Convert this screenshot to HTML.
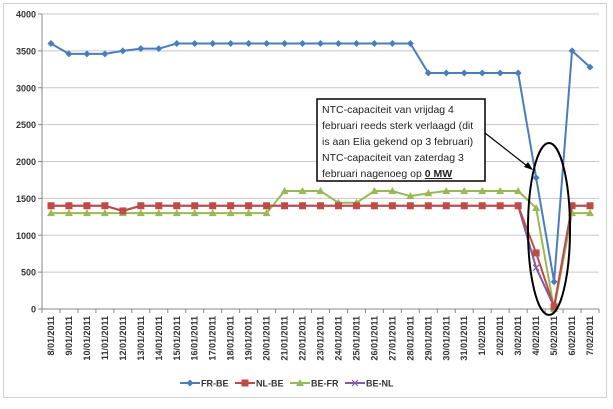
<!DOCTYPE html>
<html><head><meta charset="utf-8"><style>
body{margin:0;background:#fff;font-family:"Liberation Sans",sans-serif;}
svg text{font-family:"Liberation Sans",sans-serif;}
</style></head><body>
<svg id="chart" width="613" height="404" xmlns="http://www.w3.org/2000/svg">
<rect x="3.5" y="3.5" width="603" height="394" fill="#fff" stroke="#d0d0d0"/>
<g id="grid"></g><g id="axes"></g><g id="series"></g>
<g>
<rect x="317" y="99" width="168" height="82" fill="#fff" stroke="#000" stroke-width="1.5"/>
<text font-size="10.5" fill="#222">
<tspan x="322" y="113">NTC-capaciteit van vrijdag 4</tspan>
<tspan x="322" y="129">februari reeds sterk verlaagd (dit</tspan>
<tspan x="322" y="145">is aan Elia gekend op 3 februari)</tspan>
<tspan x="322" y="161">NTC-capaciteit van zaterdag 3</tspan>
<tspan x="322" y="177">februari nagenoeg op <tspan font-weight="bold" text-decoration="underline">0 MW</tspan></tspan>
</text>
<line x1="485" y1="133" x2="531" y2="169" stroke="#000" stroke-width="1.2"/>
<polygon points="533,170 524,167 528,162" fill="#000"/>
<ellipse cx="549" cy="229" rx="21" ry="86" fill="none" stroke="#000" stroke-width="2"/>
</g>
<g id="legend"></g>
</svg>
<script>
const categories=["8/01/2011","9/01/2011","10/01/2011","11/01/2011","12/01/2011","13/01/2011","14/01/2011","15/01/2011","16/01/2011","17/01/2011","18/01/2011","19/01/2011","20/01/2011","21/01/2011","22/01/2011","23/01/2011","24/01/2011","25/01/2011","26/01/2011","27/01/2011","28/01/2011","29/01/2011","30/01/2011","31/01/2011","1/02/2011","2/02/2011","3/02/2011","4/02/2011","5/02/2011","6/02/2011","7/02/2011"];
const frBe=[3600,3460,3460,3460,3500,3530,3530,3600,3600,3600,3600,3600,3600,3600,3600,3600,3600,3600,3600,3600,3600,3200,3200,3200,3200,3200,3200,1780,370,3500,3280];
const nlBe=[1400,1400,1400,1400,1330,1400,1400,1400,1400,1400,1400,1400,1400,1400,1400,1400,1400,1400,1400,1400,1400,1400,1400,1400,1400,1400,1400,760,30,1400,1400];
const beFr=[1300,1300,1300,1300,1300,1300,1300,1300,1300,1300,1300,1300,1300,1600,1600,1600,1440,1440,1600,1600,1530,1570,1600,1600,1600,1600,1600,1370,0,1300,1300];
const beNl=[1400,1400,1400,1400,1330,1400,1400,1400,1400,1400,1400,1400,1400,1400,1400,1400,1400,1400,1400,1400,1400,1400,1400,1400,1400,1400,1400,560,30,1400,1400];
const yTicks=[0,500,1000,1500,2000,2500,3000,3500,4000];
const seriesNames=["FR-BE","NL-BE","BE-FR","BE-NL"];
const NS="http://www.w3.org/2000/svg";
const L=42,R=599,T=14,B=309,yMax=4000;
const bw=(R-L)/categories.length;
const x=i=>L+(i+0.5)*bw;
const y=v=>B-v/yMax*(B-T);
function mk(tag,attrs,parent){const e=document.createElementNS(NS,tag);for(const k in attrs)e.setAttribute(k,attrs[k]);parent.appendChild(e);return e;}
const grid=document.getElementById('grid'),axes=document.getElementById('axes'),ser=document.getElementById('series'),leg=document.getElementById('legend');
yTicks.forEach(t=>{
 if(t>0){const g=mk('line',{x1:L,x2:R,y1:y(t),y2:y(t),stroke:'#c8c8c8','stroke-width':1},grid);
 
 }
 const tx=mk('text',{x:L-6,y:y(t)+3.5,'text-anchor':'end','font-size':9,'font-weight':'bold',fill:'#333'},axes);
 tx.textContent=t;
 
 
 mk('line',{x1:L-4,x2:L,y1:y(t),y2:y(t),stroke:'#888'},axes);
});
mk('line',{x1:L,x2:L,y1:T,y2:B,stroke:'#888'},axes);
mk('line',{x1:L,x2:R,y1:B,y2:B,stroke:'#888'},axes);
categories.forEach((c,i)=>{
 mk('line',{x1:L+i*bw,x2:L+i*bw,y1:B,y2:B+4,stroke:'#888'},axes);
 const tx=mk('text',{x:0,y:0,'text-anchor':'end','font-size':9,'font-weight':'bold',fill:'#333',transform:`translate(${x(i)+3},${B+7}) rotate(-90)`},axes);
 tx.textContent=c;
 
 
});
mk('line',{x1:R,x2:R,y1:B,y2:B+4,stroke:'#888'},axes);
const colors=["#4a7ebb","#be4b48","#98b954","#7d5fa0"];
const data=[frBe,nlBe,beFr,beNl];
function marker(k,cx,cy,g){
 if(k===0)return mk('polygon',{points:`${cx},${cy-3.5} ${cx+3.5},${cy} ${cx},${cy+3.5} ${cx-3.5},${cy}`,fill:colors[0]},g);
 if(k===1)return mk('rect',{x:cx-3.5,y:cy-3.5,width:7,height:7,fill:colors[1]},g);
 if(k===2)return mk('polygon',{points:`${cx},${cy-4} ${cx+4},${cy+3} ${cx-4},${cy+3}`,fill:colors[2]},g);
 return mk('path',{d:`M${cx-3},${cy-3}L${cx+3},${cy+3}M${cx-3},${cy+3}L${cx+3},${cy-3}`,stroke:colors[3],'stroke-width':1.2},g);
}
[3,2,1,0].forEach(k=>{
 const g=mk('g',{},ser);
 
 
 mk('polyline',{points:data[k].map((v,i)=>x(i)+','+y(v)).join(' '),fill:'none',stroke:colors[k],'stroke-width':2},g);
 data[k].forEach((v,i)=>{const m=marker(k,x(i),y(v),g);
  
  });
});
let lx=180;
seriesNames.forEach((n,k)=>{
 const g=mk('g',{},leg);
 
 
 mk('line',{x1:lx,x2:lx+20,y1:383,y2:383,stroke:colors[k],'stroke-width':2},g);
 marker(k,lx+10,383,g);
 const t=mk('text',{x:lx+21,y:386.5,'font-size':9,'font-weight':'bold',fill:'#333'},g);
 t.textContent=n;
 lx+=55;
});
</script>
</body></html>
